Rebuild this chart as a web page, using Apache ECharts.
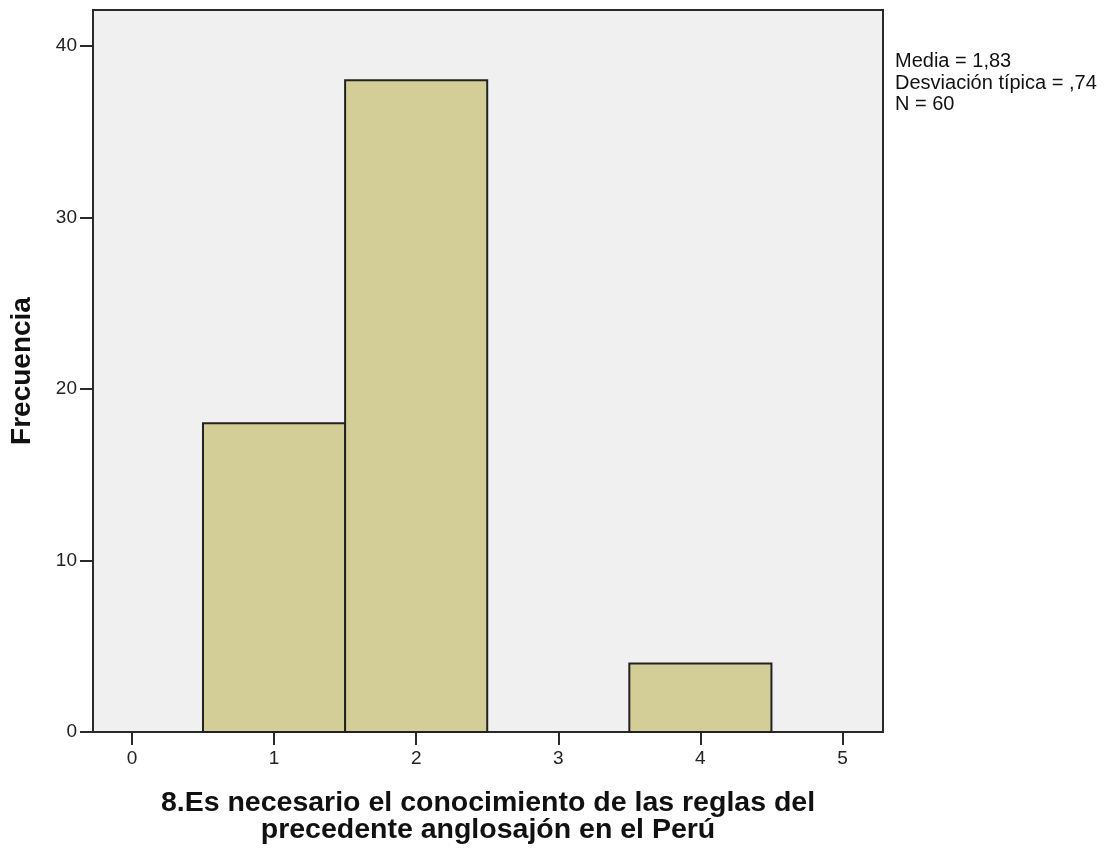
<!DOCTYPE html>
<html><head><meta charset="utf-8">
<script src="https://cdn.jsdelivr.net/npm/echarts@6/dist/echarts.min.js"></script>
<style>html,body{margin:0;padding:0;background:#fff}#c{width:1108px;height:850px}</style>
</head><body><div id="c"></div>
<script>
const binCenters = [1, 2, 4];
const frequencies = [18, 38, 4];
const binWidth = 1;
const xTicks = [0, 1, 2, 3, 4, 5];
const yTicks = [0, 10, 20, 30, 40];
const statsLines = ['Media = 1,83', 'Desviación típica = ,74', 'N = 60'];
const xTitle = '8.Es necesario el conocimiento de las reglas del\nprecedente anglosajón en el Perú';
const yTitle = 'Frecuencia';

const chart = echarts.init(document.getElementById('c'), null, {renderer: 'canvas'});
const font = '"Liberation Sans", Arial, sans-serif';
const dark = '#2a2a2a';
chart.setOption({
  animation: false,
  grid: {left: 92, top: 10, width: 791, height: 722, show: true, backgroundColor: '#f0f0f0', borderColor: dark, borderWidth: 2},
  xAxis: {
    type: 'value', min: -0.274, max: 5.285,
    axisLine: {show: true, onZero: false, lineStyle: {color: dark, width: 2}},
    axisTick: {show: true, length: 13, customValues: xTicks, lineStyle: {color: dark, width: 2}},
    axisLabel: {customValues: xTicks, color: '#222', fontSize: 19, fontFamily: font, margin: 17},
    splitLine: {show: false},
    name: xTitle, nameLocation: 'middle', nameGap: 58,
    nameTextStyle: {fontSize: 28.5, fontWeight: 'bold', color: '#111', fontFamily: font, lineHeight: 27}
  },
  yAxis: {
    type: 'value', min: 0, max: 42.1,
    axisLine: {show: true, onZero: false, lineStyle: {color: dark, width: 2}},
    axisTick: {show: true, length: 13, customValues: yTicks, lineStyle: {color: dark, width: 2}},
    axisLabel: {customValues: yTicks, color: '#222', fontSize: 19, fontFamily: font, margin: 16},
    splitLine: {show: false},
    name: yTitle, nameLocation: 'middle', nameGap: 57,
    nameTextStyle: {fontSize: 28, fontWeight: 'bold', color: '#111', fontFamily: font}
  },
  graphic: [{
    type: 'text', left: 895, top: 51,
    style: {text: statsLines.join('\n'), font: '20px ' + font, fill: '#111', lineHeight: 21.5}
  }],
  series: [{
    type: 'custom',
    data: binCenters.map((c, i) => [c, frequencies[i]]),
    renderItem: function (params, api) {
      const c = api.value(0), v = api.value(1);
      const p0 = api.coord([c - binWidth / 2, v]);
      const p1 = api.coord([c + binWidth / 2, 0]);
      return {
        type: 'rect',
        shape: {x: p0[0], y: p0[1], width: p1[0] - p0[0], height: p1[1] - p0[1]},
        style: {fill: '#d3ce97', stroke: '#222', lineWidth: 2}
      };
    }
  }]
});
</script></body></html>
